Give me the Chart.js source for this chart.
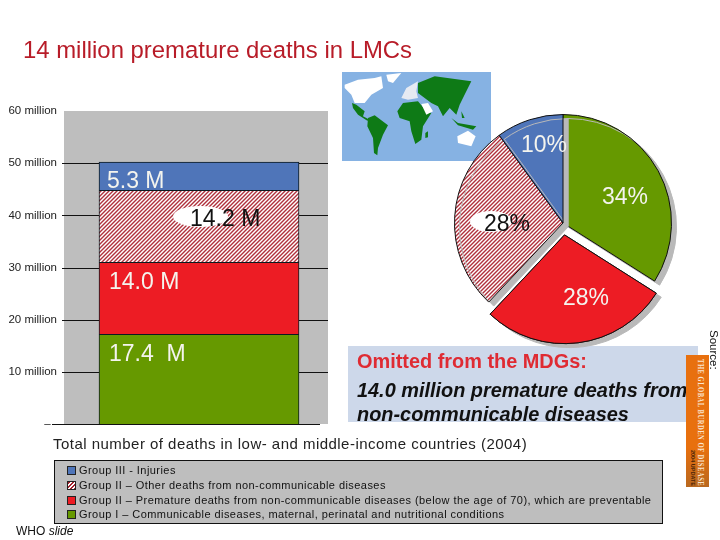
<!DOCTYPE html>
<html>
<head>
<meta charset="utf-8">
<title>14 million premature deaths in LMCs</title>
<script src="https://cdn.jsdelivr.net/npm/chart.js@4/dist/chart.umd.min.js"></script>
<style>
html, body { margin: 0; padding: 0; background: #fff; }
body { width: 720px; height: 540px; position: relative; overflow: hidden; font-family: "Liberation Sans", Arial, sans-serif; }
canvas { position: absolute; }
.t { position: absolute; white-space: pre; line-height: 1; }
.v { writing-mode: vertical-rl; }
.w { color: #f4f4ee; }
.blob { position: absolute; background: #fff; border-radius: 50%; }
#map { position: absolute; left: 342px; top: 72px; }
#note { position: absolute; left: 348px; top: 346px; width: 350px; height: 76px; background: #cdd8ea; }
#book { position: absolute; left: 686px; top: 355px; width: 23px; height: 132px; background: linear-gradient(#e8700e 70%, #b9681f); }
#legendBox { position: absolute; left: 54px; top: 460px; width: 607px; height: 62px; background: #bebebe; border: 1px solid #111; }
#legendBox div { position: absolute; left: 24px; font-size: 11px; letter-spacing: .44px; color: #111; white-space: pre; }
#legendBox i { position: absolute; left: -12px; top: 2px; width: 7px; height: 7px; border: 1px solid #222; }
</style>
</head>
<body>
<svg id="map" width="149" height="89" viewBox="0 0 149 89">
  <rect width="149" height="89" fill="#86b2e3"/>
  <g transform="translate(-4,-4) scale(.3333)">
    <path d="M20 50 L60 35 L110 30 L130 25 L135 60 L100 80 L80 105 L50 105 L40 80 L20 60 Z" fill="#fff"/>
    <path d="M145 20 L190 15 L165 45 L150 40 Z" fill="#fff"/>
    <path d="M190 90 L205 60 L240 40 L235 70 L240 90 L210 95 Z" fill="#e6eaf2"/>
    <path d="M42 105 L55 110 L80 130 L75 145 L95 155 L88 158 L60 140 L45 120 Z" fill="#0e7a16"/>
    <path d="M90 150 L110 142 L150 172 L135 200 L120 240 L118 262 L108 255 L105 210 L88 175 Z" fill="#0e7a16"/>
    <path d="M240 45 L290 25 L400 40 L385 70 L365 110 L355 140 L335 120 L315 145 L300 115 L280 105 L240 75 Z" fill="#0e7a16"/>
    <path d="M178 130 L195 105 L240 100 L265 130 L280 135 L255 175 L250 215 L232 228 L220 190 L215 160 L185 150 Z" fill="#0e7a16"/>
    <path d="M250 108 L270 105 L285 130 L265 140 Z" fill="#fff"/>
    <path d="M262 195 L270 190 L270 208 L262 210 Z" fill="#0e7a16"/>
    <path d="M340 150 L360 165 L415 175 L405 185 L360 172 Z" fill="#0e7a16"/>
    <path d="M370 130 L380 150 L372 150 Z" fill="#0e7a16"/>
    <path d="M358 205 L390 188 L413 205 L400 235 L360 225 Z" fill="#fff"/>
  </g>
</svg>
<div id="note"></div>
<canvas id="barChart" width="720" height="540" style="left:0;top:0"></canvas>
<canvas id="pieChart" width="306" height="306" style="left:410px;top:70px"></canvas>

<div class="t" style="left:23px;top:38px;font-size:23.9px;color:#b81c28">14 million premature deaths in LMCs</div>

<div class="t w" style="left:107px;top:169px;font-size:23px">5.3 M</div>
<div class="blob" style="left:173px;top:206px;width:55px;height:21px"></div>
<div class="t" style="left:190px;top:207px;font-size:23px;color:#111">14.2 M</div>
<div class="t w" style="left:109px;top:270px;font-size:23px">14.0 M</div>
<div class="t w" style="left:109px;top:342px;font-size:23px">17.4  M</div>

<div class="t w" style="left:521px;top:133px;font-size:23px">10%</div>
<div class="t w" style="left:602px;top:185px;font-size:23px">34%</div>
<div class="blob" style="left:470px;top:211px;width:42px;height:21px"></div>
<div class="t" style="left:484px;top:212px;font-size:23px;color:#111">28%</div>
<div class="t w" style="left:563px;top:286px;font-size:23px">28%</div>

<div class="t" style="left:357px;top:352px;font-size:19.9px;font-weight:bold;color:#df2b33">Omitted from the MDGs:</div>
<div class="t" style="left:357px;top:381px;font-size:19.9px;font-weight:bold;font-style:italic;color:#111">14.0 million premature deaths from</div>
<div class="t" style="left:357px;top:405px;font-size:19.9px;font-weight:bold;font-style:italic;color:#111">non-communicable diseases</div>

<div id="book"></div>
<div class="t v" style="left:696px;top:359px;font-family:'Liberation Serif';font-size:9px;font-weight:bold;letter-spacing:.7px;color:#fbe6d0;transform-origin:0 0;transform:scaleY(.73)">THE GLOBAL BURDEN OF DISEASE</div>
<div class="t v" style="left:689px;top:450px;font-size:5.5px;font-weight:bold;color:#4a2408">2004 UPDATE</div>
<div class="t v" style="left:707px;top:330px;font-size:11.5px;color:#111">Source:</div>

<div class="t" style="left:53px;top:436px;font-size:15px;letter-spacing:.47px;color:#222">Total number of deaths in low- and middle-income countries (2004)</div>
<div id="legendBox"></div>
<div class="t" style="left:16px;top:525px;font-size:12px;color:#111">WHO <em>slide</em></div>

<script>
// stack order is bottom to top
const tickLabels = ['–  ', '10 million', '20 million', '30 million', '40 million', '50 million', '60 million']
const categories = ['Deaths']
const groupNames = [
    'Group I – Communicable diseases, maternal, perinatal and nutritional conditions',
    'Group II – Premature deaths from non-communicable diseases (below the age of 70), which are preventable',
    'Group II – Other deaths from non-communicable diseases',
    'Group III - Injuries'
]
// heights as they are drawn in the picture, the printed labels say 17.4 / 14.0 / 14.2 / 5.3
const barValues = [17.2, 13.8, 13.8, 5.4]
const pieValues = [34, 28, 28, 10]

const green = '#669900'
const red = '#ed1c24'
const blue = '#4f75b9'

const makeHatch = (ctx) => {
    const tile = document.createElement('canvas')
    tile.width = 4
    tile.height = 4
    const t = tile.getContext('2d')
    t.fillStyle = '#fff'
    t.fillRect(0, 0, 4, 4)
    t.strokeStyle = '#b0303c'
    t.lineWidth = 1.4
    t.beginPath()
    t.moveTo(-1, 1); t.lineTo(1, -1)
    t.moveTo(0, 4); t.lineTo(4, 0)
    t.moveTo(3, 5); t.lineTo(5, 3)
    t.stroke()
    return ctx.createPattern(tile, 'repeat')
}

// grey plot and the black lines, they sit behind the bar
const plotBackdrop = {
    id: 'plotBackdrop',
    beforeDatasetsDraw(chart) {
        const { ctx, chartArea, scales } = chart
        const greyRight = chartArea.right - 6
        ctx.save()
        ctx.fillStyle = '#bebebe'
        ctx.fillRect(chartArea.left, chartArea.top, greyRight - chartArea.left, chartArea.height)
        ctx.strokeStyle = '#111'
        ctx.lineWidth = 1
        scales.y.ticks.forEach(tick => {
            if (tick.value === 60) return
            const y = Math.round(scales.y.getPixelForValue(tick.value)) + 0.5
            ctx.beginPath()
            ctx.moveTo(tick.value === 0 ? chartArea.left - 12 : chartArea.left - 2, y)
            ctx.lineTo(tick.value === 0 ? greyRight - 8 : greyRight, y)
            ctx.stroke()
        })
        ctx.restore()
    }
}

const barCtx = document.getElementById('barChart').getContext('2d')
const barColors = [green, red, makeHatch(barCtx), blue]

new Chart(barCtx, {
    type: 'bar',
    plugins: [plotBackdrop],
    data: {
        labels: categories,
        datasets: barValues.map((v, i) => ({
            label: groupNames[i],
            data: [v],
            backgroundColor: barColors[i],
            borderColor: '#0b1a20',
            borderWidth: 1,
            barThickness: 200
        }))
    },
    options: {
        responsive: false,
        animation: false,
        layout: { padding: { left: 0, top: 111, right: 386, bottom: 116 } },
        plugins: { legend: { display: false }, tooltip: { enabled: false } },
        scales: {
            x: { display: false, stacked: true },
            y: {
                stacked: true,
                min: 0,
                max: 60,
                afterFit: scale => { scale.width = 64 },
                grid: { display: false, drawTicks: false, tickLength: 0 },
                border: { color: '#111' },
                ticks: {
                    stepSize: 10,
                    padding: 7,
                    color: '#222',
                    font: { family: '"Liberation Sans"', size: 11.5 },
                    callback: (v) => tickLabels[v / 10]
                }
            }
        }
    }
})

// the canvas shadow gives the grey edge round each slice
const pieShadow = {
    id: 'pieShadow',
    beforeDatasetsDraw(chart) {
        const ctx = chart.ctx
        ctx.save()
        ctx.shadowColor = '#b9b9b9'
        ctx.shadowOffsetX = 5
        ctx.shadowOffsetY = 4
        ctx.shadowBlur = 0
    },
    afterDatasetsDraw(chart) {
        chart.ctx.restore()
        // the red slice sits on top of the hatched slice's shadow
        chart.getDatasetMeta(0).data[1].draw(chart.ctx)
    }
}

const pieCtx = document.getElementById('pieChart').getContext('2d')

new Chart(pieCtx, {
    type: 'pie',
    plugins: [pieShadow],
    data: {
        labels: groupNames,
        datasets: [{
            data: pieValues,
            backgroundColor: [green, red, makeHatch(pieCtx), blue],
            borderColor: '#111',
            borderWidth: 1,
            offset: [0, 48, 0, 0] // chart.js moves a slice by a quarter of this
        }]
    },
    options: {
        responsive: false,
        animation: false,
        layout: { padding: 20 },
        plugins: { legend: { display: false }, tooltip: { enabled: false } }
    }
})

// legend reads top to bottom, so the stack order is flipped
const legendBox = document.getElementById('legendBox')
const swatches = [green, red, 'repeating-linear-gradient(135deg,#a3202c 0 1.5px,#fff 1.5px 3px)', blue]
groupNames.forEach((name, i) => {
    const row = document.createElement('div')
    row.style.top = (3 + (3 - i) * 14.8) + 'px'
    row.textContent = name
    const box = document.createElement('i')
    box.style.background = swatches[i]
    row.prepend(box)
    legendBox.appendChild(row)
})
</script>
</body>
</html>
